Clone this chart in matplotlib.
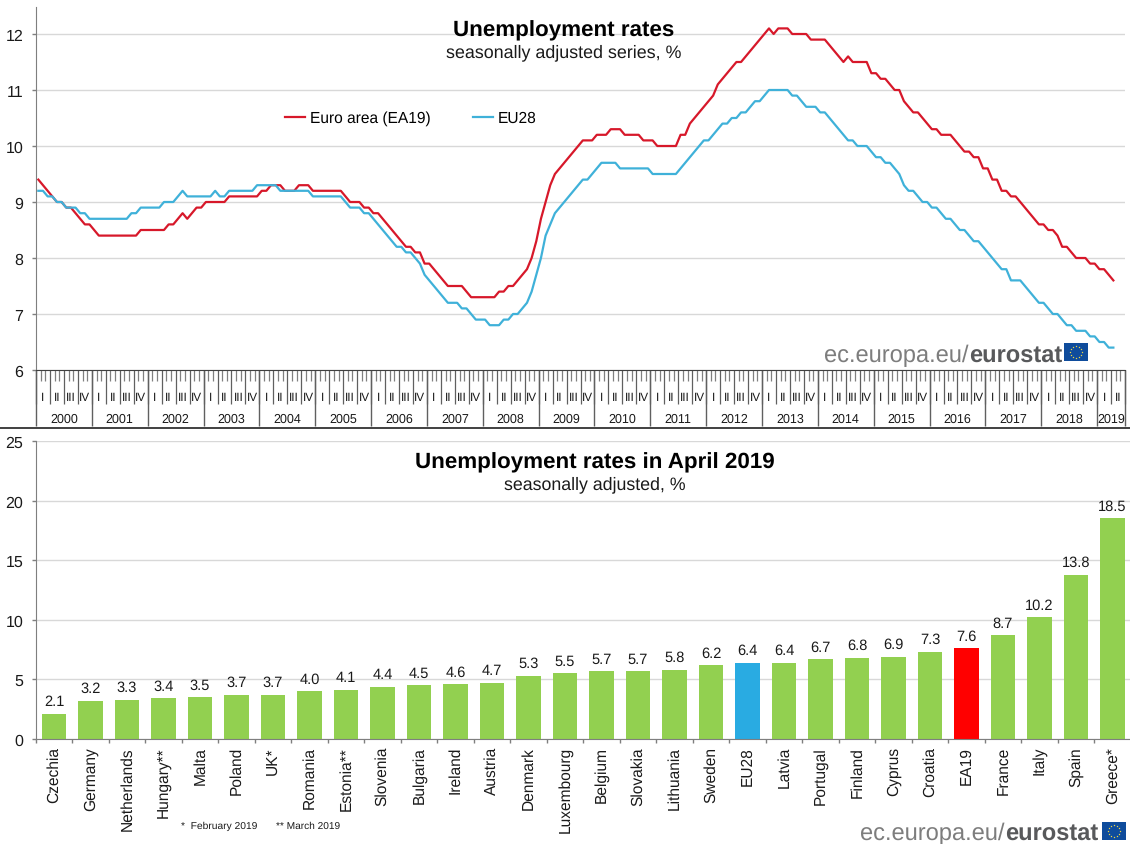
import numpy as np
import matplotlib
matplotlib.use("Agg")
import matplotlib.pyplot as plt
from matplotlib.patches import Rectangle

plt.rcParams["font.family"] = ["Liberation Sans", "DejaVu Sans"]
plt.rcParams["text.hinting"] = "none"

W, H = 1130, 845

# monthly rates, Jan 2000 - Apr 2019
ea19 = [
    9.4, 9.3, 9.2, 9.1, 9.0, 9.0, 8.9, 8.9, 8.8, 8.7, 8.6, 8.6,
    8.5, 8.4, 8.4, 8.4, 8.4, 8.4, 8.4, 8.4, 8.4, 8.4, 8.5, 8.5,
    8.5, 8.5, 8.5, 8.5, 8.6, 8.6, 8.7, 8.8, 8.7, 8.8, 8.9, 8.9,
    9.0, 9.0, 9.0, 9.0, 9.0, 9.1, 9.1, 9.1, 9.1, 9.1, 9.1, 9.1,
    9.2, 9.2, 9.3, 9.3, 9.3, 9.2, 9.2, 9.2, 9.3, 9.3, 9.3, 9.2,
    9.2, 9.2, 9.2, 9.2, 9.2, 9.2, 9.1, 9.0, 9.0, 9.0, 8.9, 8.9,
    8.8, 8.8, 8.7, 8.6, 8.5, 8.4, 8.3, 8.2, 8.2, 8.1, 8.1, 7.9,
    7.9, 7.8, 7.7, 7.6, 7.5, 7.5, 7.5, 7.5, 7.4, 7.3, 7.3, 7.3,
    7.3, 7.3, 7.3, 7.4, 7.4, 7.5, 7.5, 7.6, 7.7, 7.8, 8.0, 8.3,
    8.7, 9.0, 9.3, 9.5, 9.6, 9.7, 9.8, 9.9, 10.0, 10.1, 10.1, 10.1,
    10.2, 10.2, 10.2, 10.3, 10.3, 10.3, 10.2, 10.2, 10.2, 10.2, 10.1, 10.1,
    10.1, 10.0, 10.0, 10.0, 10.0, 10.0, 10.2, 10.2, 10.4, 10.5, 10.6, 10.7,
    10.8, 10.9, 11.1, 11.2, 11.3, 11.4, 11.5, 11.5, 11.6, 11.7, 11.8, 11.9,
    12.0, 12.1, 12.0, 12.1, 12.1, 12.1, 12.0, 12.0, 12.0, 12.0, 11.9, 11.9,
    11.9, 11.9, 11.8, 11.7, 11.6, 11.5, 11.6, 11.5, 11.5, 11.5, 11.5, 11.3,
    11.3, 11.2, 11.2, 11.1, 11.0, 11.0, 10.8, 10.7, 10.6, 10.6, 10.5, 10.4,
    10.3, 10.3, 10.2, 10.2, 10.2, 10.1, 10.0, 9.9, 9.9, 9.8, 9.8, 9.6,
    9.6, 9.4, 9.4, 9.2, 9.2, 9.1, 9.1, 9.0, 8.9, 8.8, 8.7, 8.6,
    8.6, 8.5, 8.5, 8.4, 8.2, 8.2, 8.1, 8.0, 8.0, 8.0, 7.9, 7.9,
    7.8, 7.8, 7.7, 7.6,
]
eu28 = [
    9.2, 9.2, 9.1, 9.1, 9.0, 9.0, 8.9, 8.9, 8.9, 8.8, 8.8, 8.7,
    8.7, 8.7, 8.7, 8.7, 8.7, 8.7, 8.7, 8.7, 8.8, 8.8, 8.9, 8.9,
    8.9, 8.9, 8.9, 9.0, 9.0, 9.0, 9.1, 9.2, 9.1, 9.1, 9.1, 9.1,
    9.1, 9.1, 9.2, 9.1, 9.1, 9.2, 9.2, 9.2, 9.2, 9.2, 9.2, 9.3,
    9.3, 9.3, 9.3, 9.3, 9.2, 9.2, 9.2, 9.2, 9.2, 9.2, 9.2, 9.1,
    9.1, 9.1, 9.1, 9.1, 9.1, 9.1, 9.0, 8.9, 8.9, 8.9, 8.8, 8.8,
    8.7, 8.6, 8.5, 8.4, 8.3, 8.2, 8.2, 8.1, 8.1, 8.0, 7.9, 7.7,
    7.6, 7.5, 7.4, 7.3, 7.2, 7.2, 7.2, 7.1, 7.1, 7.0, 6.9, 6.9,
    6.9, 6.8, 6.8, 6.8, 6.9, 6.9, 7.0, 7.0, 7.1, 7.2, 7.4, 7.7,
    8.0, 8.4, 8.6, 8.8, 8.9, 9.0, 9.1, 9.2, 9.3, 9.4, 9.4, 9.5,
    9.6, 9.7, 9.7, 9.7, 9.7, 9.6, 9.6, 9.6, 9.6, 9.6, 9.6, 9.6,
    9.5, 9.5, 9.5, 9.5, 9.5, 9.5, 9.6, 9.7, 9.8, 9.9, 10.0, 10.1,
    10.1, 10.2, 10.3, 10.4, 10.4, 10.5, 10.5, 10.6, 10.6, 10.7, 10.8, 10.8,
    10.9, 11.0, 11.0, 11.0, 11.0, 11.0, 10.9, 10.9, 10.8, 10.7, 10.7, 10.7,
    10.6, 10.6, 10.5, 10.4, 10.3, 10.2, 10.1, 10.1, 10.0, 10.0, 10.0, 9.9,
    9.8, 9.8, 9.7, 9.7, 9.6, 9.5, 9.3, 9.2, 9.2, 9.1, 9.0, 9.0,
    8.9, 8.9, 8.8, 8.7, 8.7, 8.6, 8.5, 8.5, 8.4, 8.3, 8.3, 8.2,
    8.1, 8.0, 7.9, 7.8, 7.8, 7.6, 7.6, 7.6, 7.5, 7.4, 7.3, 7.2,
    7.2, 7.1, 7.0, 7.0, 6.9, 6.8, 6.8, 6.7, 6.7, 6.7, 6.6, 6.6,
    6.5, 6.5, 6.4, 6.4,
]
years = [str(y) for y in range(2000, 2020)]
quarters = ["I", "II", "III", "IV"]

countries = ["Czechia", "Germany", "Netherlands", "Hungary**", "Malta", "Poland", "UK*",
             "Romania", "Estonia**", "Slovenia", "Bulgaria", "Ireland", "Austria", "Denmark",
             "Luxembourg", "Belgium", "Slovakia", "Lithuania", "Sweden", "EU28", "Latvia",
             "Portugal", "Finland", "Cyprus", "Croatia", "EA19", "France", "Italy", "Spain",
             "Greece*"]
rates = [2.1, 3.2, 3.3, 3.4, 3.5, 3.7, 3.7, 4.0, 4.1, 4.4, 4.5, 4.6, 4.7, 5.3, 5.5, 5.7, 5.7,
         5.8, 6.2, 6.4, 6.4, 6.7, 6.8, 6.9, 7.3, 7.6, 8.7, 10.2, 13.8, 18.5]

RED = "#d7182a"
BLUE = "#3fb1d9"
GREEN = "#92d050"
GRID = "#d8d8d8"
AXIS = "#7f7f7f"
TEXT = "#1a1a1a"


def axes_px(left, top, right, bottom):
    return fig.add_axes([left / W, 1 - bottom / H, (right - left) / W, (bottom - top) / H])


def fig_text(x, y, s, **kw):
    return fig.text(x / W, 1 - y / H, s, color=kw.pop("color", TEXT), **kw)


def logo(right, base, flag_x, flag_y, flag_w, flag_h, size):
    # "ec.europa.eu/" + bold "eurostat" + flag
    t = fig_text(right, base, "eurostat", ha="right", va="baseline", fontsize=size,
                 fontweight="bold", color="#58595b")
    fig.canvas.draw()
    x0 = t.get_window_extent().x0
    fig_text(x0, base, "ec.europa.eu/", ha="right", va="baseline", fontsize=size, color="#7d7d7d")
    fig.add_artist(Rectangle((flag_x / W, 1 - (flag_y + flag_h) / H), flag_w / W, flag_h / H,
                             transform=fig.transFigure, fc="#0f4c9c", ec="none"))
    a = np.arange(12) * np.pi / 6
    fig.add_artist(plt.Line2D((flag_x + flag_w / 2 + flag_h * 0.33 * np.cos(a)) / W,
                              1 - (flag_y + flag_h / 2 + flag_h * 0.33 * np.sin(a)) / H,
                              ls="none", marker="o", ms=1.0, mfc="#e8d44a", mec="none",
                              transform=fig.transFigure))


fig = plt.figure(figsize=(W / 100, H / 100), dpi=100, facecolor="white")

# top chart
ax = axes_px(36, 8, 1125, 371)
n_months = 234
x = np.arange(len(ea19)) + 0.5
ax.plot(x, ea19, color=RED, lw=1.6, label="Euro area (EA19)", solid_joinstyle="round")
ax.plot(x, eu28, color=BLUE, lw=1.6, label="EU28", solid_joinstyle="round")
ax.set_xlim(0, n_months)
ax.set_ylim(6, 12 + 27 / 56)
ax.set_yticks(range(6, 13))
ax.tick_params(axis="y", length=3, width=1, color=AXIS, labelsize=11.5, labelcolor=TEXT, pad=6)
ax.yaxis.grid(True, color=GRID, lw=1)
ax.set_axisbelow(True)
for s in ["top", "right"]:
    ax.spines[s].set_visible(False)
ax.spines["left"].set_color(AXIS)
ax.spines["bottom"].set_color("#404040")

# time ladder under the axis: months, quarters, years
ax.set_xticks(np.arange(0, n_months + 1, 3))
ax.set_xticks(np.arange(0, n_months + 1), minor=True)
ax.tick_params(axis="x", which="major", length=24.5, width=0.9, color="#606060", labelbottom=False)
ax.tick_params(axis="x", which="minor", length=8, width=0.9, color="#808080")
ax.vlines(np.arange(0, n_months + 1, 12).tolist() + [n_months], 5.0, 6, color="#606060", lw=1,
          clip_on=False)
for i in range(n_months // 3):
    ax.text(1.5 + 3 * i, 6 - 26.5 / 56, quarters[i % 4], ha="center", va="center", fontsize=8.5,
            color=TEXT, clip_on=False)
for i, y in enumerate(years):
    mid = 6 + 12 * i if i < 19 else 231
    ax.text(mid, 6 - 48.5 / 56, y, ha="center", va="center", fontsize=9, color=TEXT, clip_on=False)

ax.legend(ncol=2, frameon=False, fontsize=11.2,
          loc="center left", bbox_to_anchor=((285 - 36) / 1089, (371 - 119) / 363),
          handlelength=1.3, handletextpad=0.3, columnspacing=2.7, borderaxespad=0, borderpad=0)

fig_text(564, 31, "Unemployment rates", ha="center", va="center", fontsize=16.1, fontweight="bold",
         color="black")
fig_text(564, 53, "seasonally adjusted series, %", ha="center", va="center", fontsize=12.9)
logo(1062, 362, 1064, 344, 24, 18, 17)

# separator between the two charts
fig.add_artist(plt.Line2D([0, 1], [1 - 428.5 / H] * 2, color="#202020", lw=1.2,
                          transform=fig.transFigure))

# bottom chart
ax2 = axes_px(35.75, 442, 1130.75, 740)
pos = np.arange(len(rates))
colors = [GREEN] * len(rates)
colors[countries.index("EU28")] = "#29abe2"
colors[countries.index("EA19")] = "#ff0000"
bars = ax2.bar(pos, rates, width=0.66, color=colors, zorder=2)
ax2.bar_label(bars, labels=[f"{v:.1f}" for v in rates], padding=4, fontsize=10.5, color=TEXT)
ax2.set_xlim(-0.5, len(rates) - 0.5)
ax2.set_ylim(0, 25)
ax2.set_yticks(range(0, 26, 5))
ax2.tick_params(axis="y", length=3, width=1, color=AXIS, labelsize=11.5, labelcolor=TEXT, pad=6)
ax2.yaxis.grid(True, color=GRID, lw=1, zorder=0)
ax2.set_axisbelow(True)
ax2.set_xticks(pos - 0.5)
ax2.set_xticklabels([])
ax2.tick_params(axis="x", which="major", length=3, width=1, color=AXIS)
ax2.set_xticks(pos, minor=True)
ax2.set_xticklabels(countries, minor=True, rotation=90, fontsize=11.2, color=TEXT)
ax2.tick_params(axis="x", which="minor", length=0, pad=5)
for s in ["top", "right"]:
    ax2.spines[s].set_visible(False)
ax2.spines["left"].set_color(AXIS)
ax2.spines["bottom"].set_color(AXIS)

fig_text(595, 463, "Unemployment rates in April 2019", ha="center", va="center", fontsize=16.1,
         fontweight="bold", color="black")
fig_text(595, 485, "seasonally adjusted, %", ha="center", va="center", fontsize=12.8)
fig_text(181, 826, "*  February 2019", ha="left", va="center", fontsize=7.4)
fig_text(276, 826, "** March 2019", ha="left", va="center", fontsize=7.3)
logo(1098, 840, 1102, 823, 24, 18, 17)

fig.savefig("out.png", dpi=100)
